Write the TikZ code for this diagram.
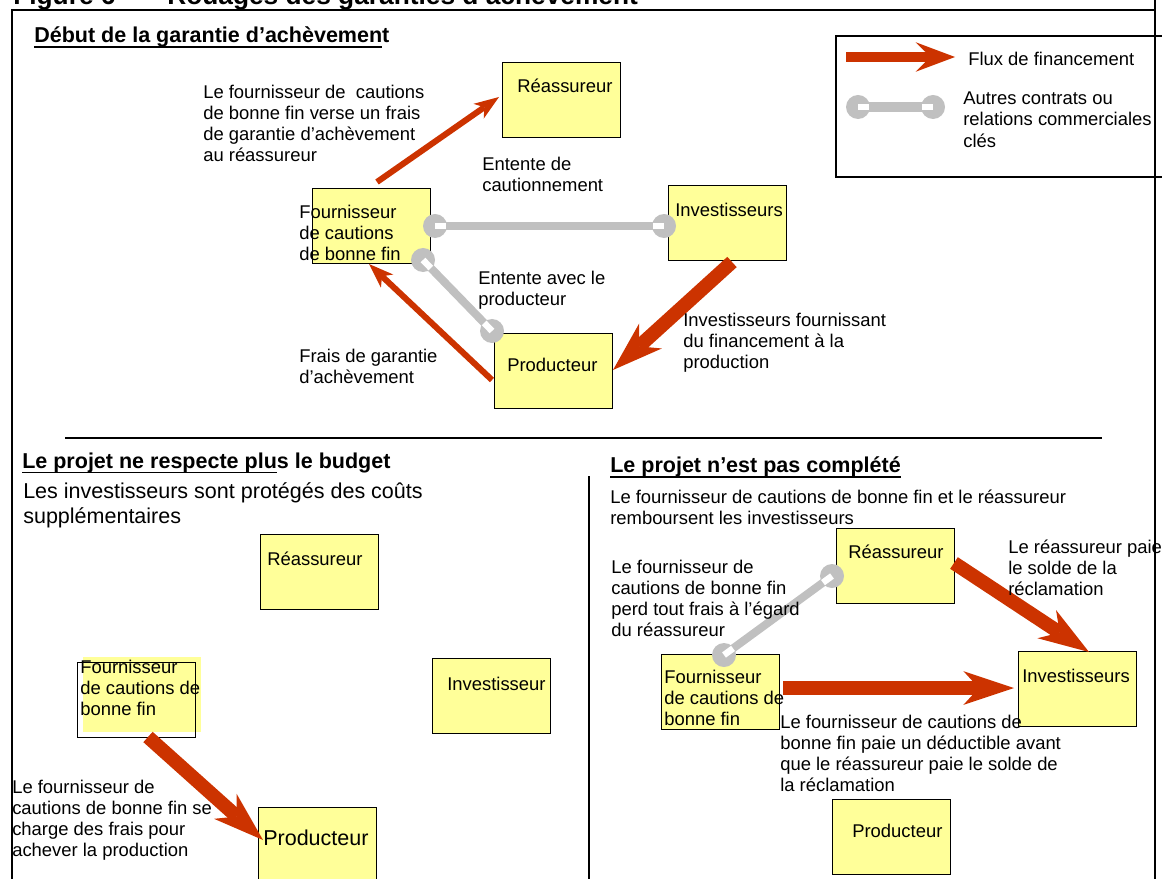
\documentclass[tikz,border=0pt]{standalone}
\usepackage{fontspec}
\setmainfont{Liberation Sans}
\usetikzlibrary{positioning,calc,arrows.meta}

\definecolor{fluxred}{RGB}{204,51,0}
\definecolor{boxyellow}{RGB}{255,255,153}
\definecolor{linkgray}{RGB}{192,192,192}

\newcommand{\txtnormal}{\fontsize{13.1pt}{15.1pt}\selectfont}
\newcommand{\txtlarge}{\fontsize{15.3pt}{17.6pt}\selectfont}
\newcommand{\souligne}[1]{\setbox0\hbox{#1}\rlap{\rule[-3.6pt]{\wd0}{1pt}}\box0}
% lien gris avec pastilles aux deux bouts
\newcommand{\lienrel}[3][5.7pt]{%
   \draw[linkgray, line width=#1] (#2) -- (#3);
   \fill[linkgray] (#2) circle[radius=0.3cm] (#3) circle[radius=0.3cm];
   \draw[white, line width=4.6pt] (#2) -- ($(#2)!0.28cm!(#3)$);
   \draw[white, line width=4.6pt] (#3) -- ($(#3)!0.28cm!(#2)$);
}

\tikzset{
   box/.style={draw=black, line width=0.8pt, fill=boxyellow, minimum width=2.95cm,
      minimum height=1.875cm, inner sep=0pt, anchor=north west},
   lbl/.style={inner sep=0pt, anchor=north west, align=left, font=\txtnormal},
   biglbl/.style={lbl, font=\txtlarge},
   heading/.style={lbl, font=\txtlarge\bfseries},
   flow/.style={fluxred, line width=4.3pt,
      -{Stealth[length=17.7pt, width=12.8pt, inset=5pt, line width=0pt]}},
   bigflow/.style={fluxred, line width=9.9pt,
      -{Stealth[length=36pt, width=24pt, inset=11pt, line width=0pt]}},
   framerule/.style={black, line width=0.9pt},
}

\begin{document}
\begin{tikzpicture}[x=0.025cm, y=-0.025cm]
   \useasboundingbox (0,0) rectangle (1162,879);
   \clip (0,0) rectangle (1162,879);

   % titre (coupe en haut)
   \node[lbl, anchor=base west, font=\fontsize{18.7pt}{21.5pt}\selectfont\bfseries] (fig) at (13,5) {Figure 6};
   \node[lbl, anchor=base west, font=\fontsize{18.7pt}{21.5pt}\selectfont\bfseries] (titre) at (167,5) {Rouages des garanties d’achèvement};

   % cadre
   \draw[framerule] (12,879) -- (12,10) -- (1155,10);
   \draw[framerule] (1155,0) -- (1155,879);
   \draw[framerule] (65,438) -- (1102,438);
   \draw[framerule] (589,476) -- (589,879);

   % legende
   \draw[framerule] (1162,36) -- (836,36) -- (836,177) -- (1162,177);
   \coordinate (legA) at (846,57);
   \coordinate (legB) at (955,57);
   \draw[fluxred, line width=7.8pt, -{Stealth[length=28pt, width=21pt, inset=10.6pt, line width=0pt]}] (legA) -- (legB);
   \node[lbl] (legflux) at (968,51.6) {Flux de financement};
   \coordinate (legC) at (858,107);
   \coordinate (legD) at (933,107);
   \lienrel[7.8pt]{legC}{legD}
   \node[lbl] (legrel) at (963,91.6) {Autres contrats ou\\relations commerciales\\clés};

   % debut de la garantie
   \node[heading] (titre1) at (34,26.5) {\souligne{Début de la garantie d’achèvemen}t};
   \node[box] (rea1) at (502,62) {};
   \node[box] (four1) at (312,188) {};
   \node[box] (inv1) at (668,185) {};
   \node[box] (prod1) at (494,333) {};

   \coordinate (caut1) at (435,226);
   \coordinate (caut2) at (664,226);
   \coordinate (ente1) at (423,260);
   \coordinate (ente2) at (492,331);
   \lienrel{caut1}{caut2}
   \lienrel{ente1}{ente2}

   \coordinate (fraisA) at (377,182);
   \coordinate (fraisB) at (499,97);
   \coordinate (garA) at (492,380);
   \coordinate (garB) at (369,264);
   \coordinate (finA) at (732,262);
   \coordinate (finB) at (613,370);
   \draw[flow] (fraisA) -- (fraisB);
   \draw[flow] (garA) -- (garB);
   \draw[bigflow] (finA) -- (finB);

   \node[lbl, below right=0.415cm and 0.375cm of rea1.north west] (rea1t) {Réassureur};
   \node[lbl] (four1t) at (299,204.6) {Fournisseur\\de cautions\\de bonne fin};
   \node[lbl, below right=0.44cm and 0.175cm of inv1.north west] (inv1t) {Investisseurs};
   \node[lbl, below right=0.615cm and 0.325cm of prod1.north west] (prod1t) {Producteur};
   \node[lbl] (versetxt) at (203,84.6) {Le fournisseur de \ cautions\\de bonne fin verse un frais\\de garantie d’achèvement\\au réassureur};
   \node[lbl] (cauttxt) at (482,156.6) {Entente de\\cautionnement};
   \node[lbl] (entetxt) at (478,270.6) {Entente avec le\\producteur};
   \node[lbl] (fintxt) at (683,312.6) {Investisseurs fournissant\\du financement à la\\production};
   \node[lbl] (gartxt) at (299,348.6) {Frais de garantie\\d’achèvement};

   % budget depasse
   \node[heading] (titre2) at (22,452.5) {\souligne{Le projet ne respecte plu}s le budget};
   \node[biglbl] (protxt) at (23,482.5) {Les investisseurs sont protégés des coûts\\supplémentaires};
   \node[box] (rea2) at (260,534) {};
   \node[box] (inv2) at (432,658) {};
   \fill[boxyellow] (83,657) rectangle (201,732);
   \node[box, fill=none] (four2) at (77,662) {};
   \node[box] (prod2) at (258,807) {};

   \coordinate (couA) at (148,737);
   \coordinate (couB) at (263,840);
   \draw[bigflow] (couA) -- (couB);

   \node[lbl, below right=0.44cm and 0.175cm of rea2.north west] (rea2t) {Réassureur};
   \node[lbl, below right=0.465cm and 0.375cm of inv2.north west] (inv2t) {Investisseur};
   \node[lbl] (four2t) at (80,659.6) {Fournisseur\\de cautions de\\bonne fin};
   \node[biglbl, below right=0.5625cm and 0.125cm of prod2.north west] (prod2t) {Producteur};
   \node[lbl] (coutxt) at (12,779.6) {Le fournisseur de\\cautions de bonne fin se\\charge des frais pour\\achever la production};

   % projet non complete
   \node[heading] (titre3) at (610,456.5) {\souligne{Le projet n’est pas complété}};
   \node[lbl] (rembtxt) at (610,489.6) {Le fournisseur de cautions de bonne fin et le réassureur\\remboursent les investisseurs};
   \node[box] (rea3) at (836,528) {};
   \node[box] (four3) at (661,654) {};
   \node[box] (inv3) at (1018,651) {};
   \node[box] (prod3) at (832,799) {};

   \coordinate (perA) at (724,655);
   \coordinate (perB) at (832,576);
   \lienrel{perA}{perB}
   \coordinate (soldA) at (954,563);
   \coordinate (soldB) at (1089,652);
   \coordinate (dedA) at (783,688);
   \coordinate (dedB) at (1014,688);
   \draw[bigflow] (soldA) -- (soldB);
   \draw[bigflow] (dedA) -- (dedB);

   \node[lbl, below right=0.415cm and 0.3cm of rea3.north west] (rea3t) {Réassureur};
   \node[lbl, below right=0.39cm and 0.075cm of four3.north west] (four3t) {Fournisseur\\de cautions de\\bonne fin};
   \node[lbl, below right=0.44cm and 0.1cm of inv3.north west] (inv3t) {Investisseurs};
   \node[lbl, below right=0.615cm and 0.5cm of prod3.north west] (prod3t) {Producteur};
   \node[lbl] (soldtxt) at (1008,539.6) {Le réassureur paie\\le solde de la\\réclamation};
   \node[lbl] (pertxt) at (611,559.6) {Le fournisseur de\\cautions de bonne fin\\perd tout frais à l’égard\\du réassureur};
   \node[lbl] (dedtxt) at (780,714.6) {Le fournisseur de cautions de\\bonne fin paie un déductible avant\\que le réassureur paie le solde de\\la réclamation};
\end{tikzpicture}
\end{document}
